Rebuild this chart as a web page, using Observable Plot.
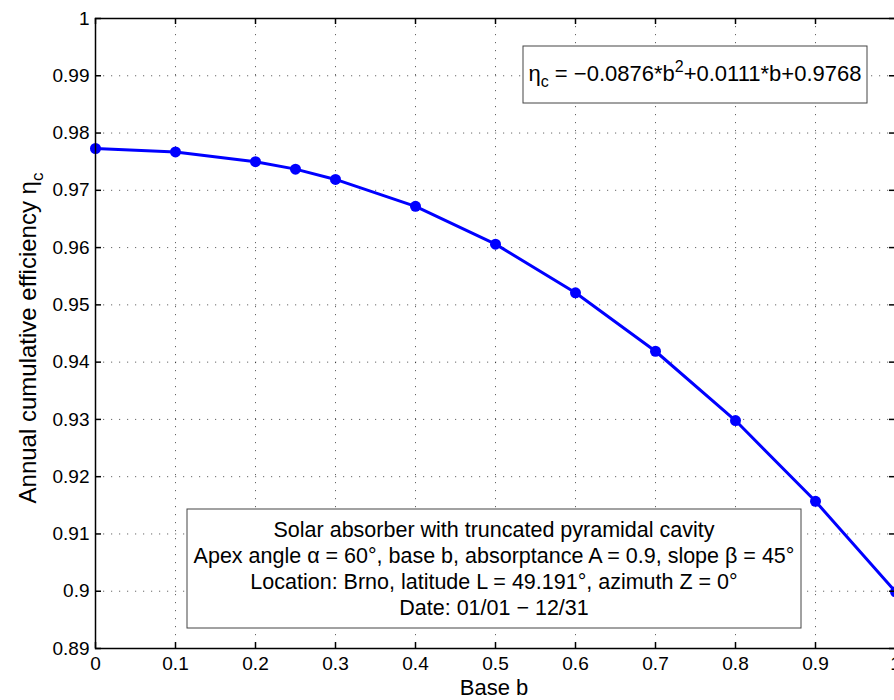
<!DOCTYPE html>
<html><head><meta charset="utf-8">
<script src="https://cdn.jsdelivr.net/npm/d3@7"></script>
<script src="https://cdn.jsdelivr.net/npm/@observablehq/plot@0.6"></script>
<style>
html,body{margin:0;padding:0;background:#fff;overflow:hidden}
#chart{width:894px;height:700px;overflow:hidden;position:relative;background:#fff}
</style></head><body><div id="chart"></div>
<script>
// ---- data ----
const baseB = [0, 0.1, 0.2, 0.25, 0.3, 0.4, 0.5, 0.6, 0.7, 0.8, 0.9, 1.0];
const efficiency = [0.9773, 0.9767, 0.9750, 0.9737, 0.9719, 0.9672, 0.9606, 0.9521, 0.9419, 0.9298, 0.9157, 0.8999];
const xTicks = [0, 0.1, 0.2, 0.3, 0.4, 0.5, 0.6, 0.7, 0.8, 0.9, 1];
const yTicks = [0.89, 0.9, 0.91, 0.92, 0.93, 0.94, 0.95, 0.96, 0.97, 0.98, 0.99, 1];
const xLabel = "Base b";
const yLabel = "Annual cumulative efficiency η";
const yLabelSub = "c";
const eqParts = ["η", "c", " = −0.0876*b", "2", "+0.0111*b+0.9768"];
const boxLines = [
  "Solar absorber with truncated pyramidal cavity",
  "Apex angle α = 60°, base b, absorptance A = 0.9, slope β = 45°",
  "Location: Brno, latitude L = 49.191°, azimuth Z = 0°",
  "Date: 01/01 − 12/31"
];

const data = baseB.map((b, i) => ({b, eta: efficiency[i]}));
const W = 895, H = 700, mL = 95, mR = 0, mT = 18, mB = 52;
const pw = W - mL - mR, ph = H - mT - mB;
const fmt = d => String(+(+d).toFixed(2));
const font = "'Liberation Sans', Arial, Helvetica, sans-serif";

const chart = Plot.plot({
  width: W, height: H,
  marginLeft: mL, marginRight: mR, marginTop: mT, marginBottom: mB,
  style: {fontFamily: font, fontSize: "19px", color: "#000", background: "#fff", overflow: "visible", maxWidth: "none"},
  x: {domain: [0, 1]},
  y: {domain: [0.89, 1]},
  marks: [
    Plot.gridX(xTicks, {stroke: "#000", strokeOpacity: 0.6, strokeWidth: 1, strokeDasharray: "1.2,6.8"}),
    Plot.gridY(yTicks, {stroke: "#000", strokeOpacity: 0.6, strokeWidth: 1, strokeDasharray: "1.2,6.8"}),
    Plot.line(data, {x: "b", y: "eta", stroke: "#0000ff", strokeWidth: 3}),
    Plot.dot(data, {x: "b", y: "eta", r: 5.5, fill: "#0000ff", stroke: "none"}),
    Plot.ruleX(xTicks, {insetTop: ph - 6, stroke: "#000", strokeWidth: 1.5}),
    Plot.ruleX(xTicks, {insetBottom: ph - 6, stroke: "#000", strokeWidth: 1.5}),
    Plot.ruleY(yTicks, {insetRight: pw - 6, stroke: "#000", strokeWidth: 1.5}),
    Plot.ruleY(yTicks, {insetLeft: pw - 6, stroke: "#000", strokeWidth: 1.5}),
    Plot.frame({stroke: "#000", strokeWidth: 1.5}),
    Plot.axisX(xTicks, {tickSize: 0, tickPadding: 8, tickFormat: fmt, label: null}),
    Plot.axisY(yTicks, {tickSize: 0, tickPadding: 6, tickFormat: fmt, label: null})
  ]
});
document.getElementById("chart").appendChild(chart);

// ---- annotations ----
const svg = d3.select(chart);
const g = svg.append("g").attr("font-family", font).attr("fill", "#000");

// x label
g.append("text").attr("x", 494).attr("y", 695).attr("text-anchor", "middle")
  .attr("font-size", 22).text(xLabel);

// y label
const yl = g.append("text").attr("transform", "translate(36,338) rotate(-90)")
  .attr("text-anchor", "middle").attr("font-size", 24);
yl.append("tspan").text(yLabel);
yl.append("tspan").attr("dy", 7).attr("font-size", 17).text(yLabelSub);

// equation box
g.append("rect").attr("x", 523).attr("y", 46).attr("width", 344).attr("height", 57)
  .attr("fill", "#fff").attr("stroke", "#444").attr("stroke-width", 1);
const eq = g.append("text").attr("x", 695).attr("y", 81).attr("text-anchor", "middle").attr("font-size", 22);
eq.append("tspan").text(eqParts[0]);
eq.append("tspan").attr("dy", 6).attr("font-size", 16).text(eqParts[1]);
eq.append("tspan").attr("dy", -6).text(eqParts[2]);
eq.append("tspan").attr("dy", -9).attr("font-size", 16).text(eqParts[3]);
eq.append("tspan").attr("dy", 9).text(eqParts[4]);

// description box
g.append("rect").attr("x", 187).attr("y", 509).attr("width", 614).attr("height", 119)
  .attr("fill", "#fff").attr("stroke", "#444").attr("stroke-width", 1);
boxLines.forEach((t, i) => {
  g.append("text").attr("x", 494).attr("y", 537 + i * 26).attr("text-anchor", "middle")
    .attr("font-size", 21.5).text(t);
});
</script></body></html>
